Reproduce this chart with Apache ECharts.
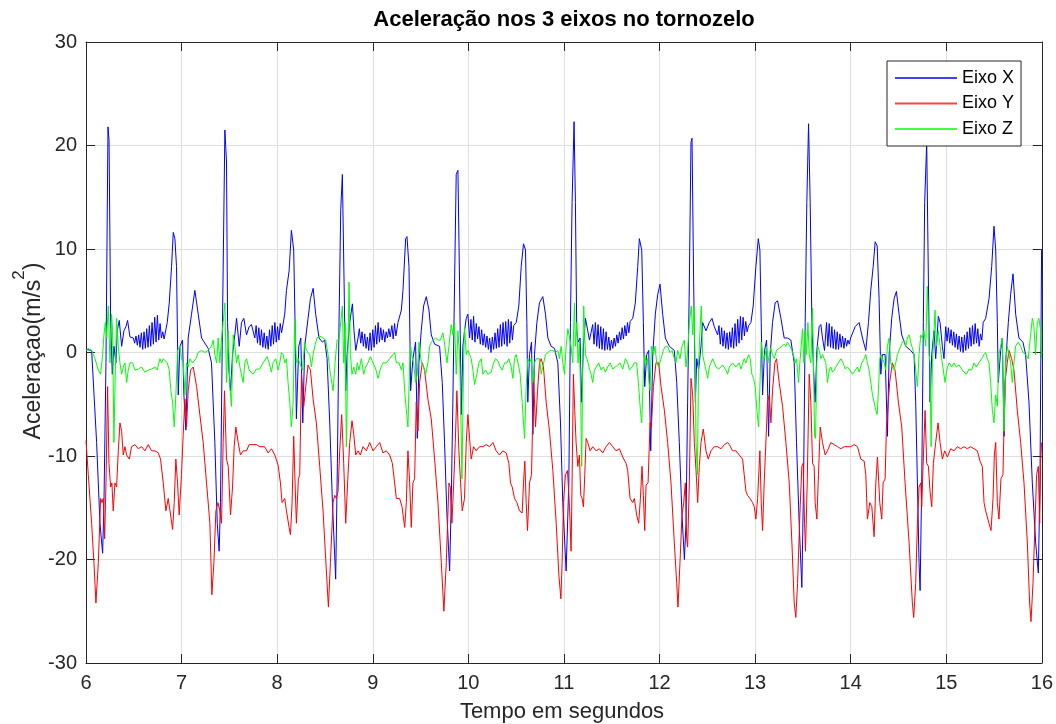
<!DOCTYPE html>
<html><head><meta charset="utf-8">
<script src="https://cdn.jsdelivr.net/npm/echarts@6/dist/echarts.min.js"></script>
<style>html,body{margin:0;padding:0;background:#fff}#c{width:1056px;height:724px}</style>
</head><body><div id="c"></div>
<script>
const titleText = 'Aceleração nos 3 eixos no tornozelo';
const xLabelText = 'Tempo em segundos';
const yLabelRich = '{a|Aceleraçao(m/s}{s|2}{a|)}';
const seriesNames = ['Eixo X', 'Eixo Y', 'Eixo Z'];
const seriesColors = ['#0000ff', '#ff0000', '#00ff00'];
const xRange = [6, 16, 1];
const yRange = [-30, 30, 10];

const eixoX = [[6.000,0.3],[6.059,0.2],[6.111,-8.7],[6.146,-16.5],[6.174,-19.4],[6.188,-14.5],[6.209,-1.0],[6.230,21.8],[6.241,20.5],[6.258,2.9],[6.275,-2.1],[6.292,0.6],[6.313,-1.0],[6.327,2.1],[6.348,3.1],[6.373,0.6],[6.397,2.1],[6.418,2.5],[6.435,3.1],[6.460,1.5],[6.495,1.4],
[6.509,0.9],[6.523,1.6],[6.537,0.7],[6.551,1.7],[6.565,0.5],[6.579,1.9],[6.593,0.3],[6.607,2.0],[6.621,0.4],[6.635,2.3],[6.649,0.5],[6.663,2.6],[6.677,0.6],[6.691,2.9],[6.705,0.8],[6.719,3.4],[6.733,1.0],[6.747,3.6],[6.761,1.2],[6.775,2.8],[6.789,1.4],[6.803,2.0],[6.817,1.3],
[6.830,1.4],[6.850,2.9],[6.871,4.8],[6.895,8.3],[6.913,11.6],[6.930,11.0],[6.947,8.3],[6.965,-4.1],[6.982,0.6],[7.010,1.2],[7.024,-4.1],[7.045,-7.5],[7.069,1.4],[7.104,3.7],[7.139,6.0],[7.174,3.7],[7.209,1.4],[7.278,0.4],[7.313,-1.0],[7.348,-8.7],[7.373,-16.5],[7.393,-19.2],[7.407,-14.5],[7.428,2.9],[7.453,21.5],[7.470,18.4],[7.481,2.9],[7.495,-1.7],[7.512,-3.7],[7.533,-0.2],[7.557,1.7],[7.575,3.3],[7.603,0.6],[7.627,2.9],[7.651,3.3],[7.679,1.7],[7.707,2.5],[7.731,2.7],[7.766,1.4],
[7.780,2.6],[7.794,0.9],[7.808,2.4],[7.822,0.7],[7.836,2.2],[7.850,0.5],[7.864,1.9],[7.878,0.4],[7.892,1.6],[7.906,0.3],[7.920,2.2],[7.934,0.6],[7.948,2.6],[7.962,0.8],[7.976,2.9],[7.990,1.0],[8.004,2.5],[8.018,1.2],[8.032,2.8],[8.046,1.9],
[8.079,3.7],[8.097,6.0],[8.125,7.9],[8.149,11.8],[8.173,9.9],[8.187,2.9],[8.201,-6.4],[8.226,0.6],[8.247,1.4],[8.268,-6.8],[8.288,0.6],[8.323,3.3],[8.348,5.2],[8.376,6.2],[8.403,3.7],[8.438,1.4],[8.473,1.0],[8.497,1.2],[8.522,-0.6],[8.550,-6.8],[8.578,-14.5],[8.612,-21.9],[8.630,-10.7],[8.647,2.9],[8.665,13.8],[8.682,17.2],[8.700,6.7],[8.717,-3.7],[8.731,-0.2],[8.759,2.9],[8.787,4.7],[8.804,2.1],[8.822,0.2],[8.846,1.4],
[8.860,2.3],[8.874,0.9],[8.888,2.0],[8.902,0.6],[8.916,1.8],[8.930,0.4],[8.944,1.5],[8.958,0.2],[8.972,1.9],[8.986,0.2],[9.000,2.2],[9.014,0.5],[9.028,2.6],[9.042,0.8],[9.056,2.9],[9.070,1.0],[9.084,2.4],[9.098,1.2],[9.112,2.2],[9.126,1.0],[9.140,2.0],[9.154,1.4],[9.168,2.3],[9.182,1.5],[9.200,2.6],[9.214,1.3],[9.228,2.8],[9.242,1.6],
[9.264,2.9],[9.299,4.1],[9.316,6.0],[9.344,11.0],[9.358,11.2],[9.379,8.3],[9.396,-3.7],[9.420,-0.6],[9.448,1.0],[9.466,-8.3],[9.483,-1.0],[9.507,2.1],[9.532,4.5],[9.560,5.4],[9.588,4.1],[9.612,1.7],[9.647,0.8],[9.699,0.6],[9.727,-2.9],[9.751,-8.7],[9.776,-15.7],[9.804,-21.1],[9.821,-14.5],[9.838,-4.8],[9.856,6.8],[9.873,17.2],[9.891,17.6],[9.908,6.8],[9.926,-6.0],[9.943,0.6],[9.960,2.1],[9.978,3.3],[9.995,3.7],[10.013,1.4],
[10.027,3.2],[10.041,1.2],[10.055,3.5],[10.069,1.0],[10.083,2.8],[10.097,1.3],[10.111,2.5],[10.125,0.8],[10.139,2.2],[10.153,0.7],[10.167,1.8],[10.181,0.5],[10.195,1.6],[10.209,0.3],[10.223,1.4],[10.237,0.0],[10.251,1.5],[10.265,0.3],[10.279,1.9],[10.293,0.4],[10.307,2.3],[10.321,0.5],[10.335,2.7],[10.349,0.6],[10.363,2.9],[10.377,0.8],[10.391,3.0],[10.405,0.6],[10.419,3.2],[10.433,0.9],[10.447,3.0],[10.461,1.2],[10.475,2.6],
[10.501,2.9],[10.528,4.5],[10.553,8.3],[10.577,10.5],[10.598,9.9],[10.612,2.9],[10.622,-4.8],[10.640,-0.2],[10.661,1.0],[10.675,-7.9],[10.692,-0.2],[10.717,2.9],[10.744,4.8],[10.779,5.4],[10.807,3.7],[10.832,1.4],[10.866,0.6],[10.901,0.4],[10.936,-1.0],[10.964,-6.8],[10.988,-14.5],[11.023,-21.1],[11.051,-12.6],[11.068,2.9],[11.085,14.5],[11.106,22.3],[11.120,14.5],[11.134,2.1],[11.148,1.0],[11.169,1.4],[11.183,-4.8],[11.204,0.6],[11.225,3.3],[11.249,2.1],[11.267,1.2],[11.301,2.7],
[11.315,0.8],[11.329,2.9],[11.343,0.6],[11.357,2.7],[11.371,0.4],[11.385,2.5],[11.399,0.3],[11.413,2.3],[11.427,0.2],[11.441,2.0],[11.455,0.3],[11.469,1.5],[11.483,0.2],[11.497,1.2],[11.511,0.4],[11.525,1.4],[11.539,0.6],[11.553,1.7],[11.567,0.9],[11.581,2.0],[11.595,1.2],[11.609,2.4],[11.623,1.3],[11.637,2.6],[11.651,1.6],[11.665,2.9],[11.679,1.9],[11.693,3.0],
[11.720,3.3],[11.747,4.8],[11.772,8.3],[11.789,11.0],[11.814,9.9],[11.831,2.9],[11.845,-3.3],[11.866,-0.2],[11.887,0.2],[11.908,-9.5],[11.929,-0.2],[11.956,3.7],[11.981,5.6],[12.005,6.6],[12.033,3.7],[12.061,1.4],[12.103,0.6],[12.155,0.2],[12.180,-2.9],[12.207,-8.7],[12.235,-15.7],[12.260,-20.0],[12.277,-16.5],[12.294,-4.8],[12.312,6.8],[12.329,20.3],[12.340,20.7],[12.357,6.8],[12.375,-4.8],[12.389,-0.6],[12.409,-1.7],[12.434,0.6],[12.451,2.9],[12.486,2.1],[12.521,2.9],[12.549,3.3],[12.573,2.5],[12.608,1.7],
[12.622,2.6],[12.636,0.8],[12.650,2.4],[12.664,0.6],[12.678,2.1],[12.692,0.4],[12.706,1.9],[12.720,0.3],[12.734,2.0],[12.748,0.5],[12.762,2.4],[12.776,0.4],[12.790,2.8],[12.804,0.6],[12.818,3.2],[12.832,0.9],[12.846,3.5],[12.860,1.2],[12.874,3.4],[12.888,1.6],[12.902,3.0],[12.916,2.0],[12.932,2.6],
[12.956,2.9],[12.980,4.5],[13.008,8.3],[13.033,11.0],[13.050,9.9],[13.064,2.9],[13.078,-4.1],[13.099,0.2],[13.120,1.2],[13.141,-8.1],[13.158,-0.2],[13.182,2.9],[13.210,4.8],[13.235,5.0],[13.270,3.3],[13.304,1.4],[13.339,1.4],[13.374,1.2],[13.409,-1.0],[13.433,-8.7],[13.461,-16.5],[13.489,-22.7],[13.507,-12.6],[13.524,2.9],[13.541,14.5],[13.559,22.1],[13.576,14.5],[13.594,2.9],[13.611,-1.7],[13.628,-4.8],[13.646,0.2],[13.670,2.5],[13.688,2.7],[13.705,1.4],[13.726,0.2],[13.747,2.9],
[13.761,0.6],[13.775,2.8],[13.789,0.5],[13.803,2.5],[13.817,0.4],[13.831,2.2],[13.845,0.3],[13.859,2.0],[13.873,0.3],[13.887,1.8],[13.901,0.5],[13.915,1.6],[13.929,0.4],[13.943,1.4],[13.957,0.6],[13.971,1.2],[13.985,0.8],[13.999,1.4],
[14.019,1.4],[14.047,2.5],[14.088,2.9],[14.123,1.4],[14.158,0.2],[14.186,2.9],[14.210,6.0],[14.235,8.3],[14.256,10.7],[14.277,10.3],[14.297,5.2],[14.315,-2.1],[14.332,-0.2],[14.360,-0.2],[14.384,-8.1],[14.402,-0.2],[14.429,3.3],[14.454,5.2],[14.478,5.9],[14.506,3.7],[14.534,1.7],[14.576,0.6],[14.628,0.2],[14.663,-0.2],[14.680,-4.8],[14.698,-12.6],[14.715,-20.3],[14.726,-23.0],[14.743,-12.6],[14.760,2.9],[14.774,14.5],[14.795,20.3],[14.813,6.8],[14.830,-4.8],[14.848,-0.2],[14.872,2.1],[14.889,-0.6],[14.917,3.5],[14.935,2.9],[14.959,0.6],[14.976,-0.6],[14.994,2.5],
[15.008,1.1],[15.022,2.4],[15.036,0.9],[15.050,2.2],[15.064,0.7],[15.078,2.0],[15.092,0.5],[15.106,1.8],[15.120,0.3],[15.134,1.6],[15.148,0.1],[15.162,1.5],[15.176,0.0],[15.190,1.7],[15.204,0.2],[15.218,2.0],[15.232,0.4],[15.246,2.4],[15.260,0.6],[15.274,2.6],[15.288,0.8],[15.302,2.8],[15.316,0.9],[15.330,2.3],[15.344,0.6],[15.358,1.8],[15.372,1.2],[15.386,2.9],
[15.412,3.3],[15.447,5.2],[15.475,8.3],[15.499,12.2],[15.517,9.9],[15.534,2.9],[15.544,-2.9],[15.569,0.2],[15.586,1.4],[15.604,-8.1],[15.621,-1.0],[15.649,2.9],[15.673,5.6],[15.698,7.6],[15.726,3.7],[15.760,1.4],[15.802,1.0],[15.830,-0.2],[15.865,-4.8],[15.900,-12.6],[15.935,-18.4],[15.963,-21.3],[15.980,-12.6],[15.997,9.9]];

const eixoY = [[6.000,-8.5],[6.024,-11.8],[6.059,-16.5],[6.083,-20.3],[6.104,-24.2],[6.129,-20.3],[6.153,-14.1],[6.167,-14.5],[6.181,-14.1],[6.195,-18.0],[6.209,-12.6],[6.226,-3.3],[6.240,-10.7],[6.258,-13.0],[6.271,-12.6],[6.285,-15.3],[6.303,-12.6],[6.320,-13.0],[6.338,-9.5],[6.355,-6.8],[6.373,-7.6],[6.390,-9.9],[6.407,-9.1],[6.425,-9.9],[6.453,-10.3],[6.477,-9.1],[6.512,-8.9],[6.547,-9.3],[6.582,-9.1],[6.616,-9.5],[6.651,-8.9],[6.686,-9.5],[6.721,-9.5],[6.756,-9.7],[6.780,-10.3],[6.808,-12.6],[6.836,-15.3],[6.860,-14.1],[6.885,-15.7],[6.906,-17.1],[6.923,-14.5],[6.940,-10.3],[6.958,-12.6],[6.975,-15.7],[6.999,-11.8],[7.017,-7.9],[7.035,-4.5],[7.052,-7.2],[7.069,-3.7],[7.094,-1.7],[7.122,-1.4],[7.157,-3.3],[7.191,-6.0],[7.226,-8.7],[7.261,-12.6],[7.296,-16.5],[7.317,-23.4],[7.338,-20.3],[7.359,-15.3],[7.380,-14.5],[7.400,-15.3],[7.418,-16.5],[7.435,-8.7],[7.449,-3.7],[7.470,-10.3],[7.488,-11.0],[7.512,-15.7],[7.533,-13.0],[7.550,-9.1],[7.568,-7.2],[7.592,-8.7],[7.616,-9.9],[7.644,-9.5],[7.679,-9.5],[7.707,-8.9],[7.748,-8.9],[7.783,-8.9],[7.818,-9.1],[7.870,-9.1],[7.905,-9.7],[7.940,-9.3],[7.975,-9.9],[8.010,-10.9],[8.034,-12.6],[8.051,-14.5],[8.079,-14.1],[8.097,-15.3],[8.125,-16.9],[8.139,-17.6],[8.156,-14.5],[8.173,-8.1],[8.187,-12.6],[8.201,-16.5],[8.222,-12.2],[8.236,-11.8],[8.254,-2.1],[8.278,-5.2],[8.299,-3.3],[8.323,-1.2],[8.348,-1.7],[8.376,-4.5],[8.410,-6.8],[8.445,-11.0],[8.480,-15.3],[8.508,-20.0],[8.536,-24.6],[8.557,-20.3],[8.585,-14.5],[8.602,-13.8],[8.619,-14.1],[8.637,-13.4],[8.654,-9.5],[8.675,-6.0],[8.696,-10.7],[8.717,-16.5],[8.741,-11.8],[8.759,-8.7],[8.783,-6.6],[8.801,-7.9],[8.822,-9.9],[8.846,-9.5],[8.870,-9.9],[8.898,-9.1],[8.933,-9.5],[8.968,-8.7],[9.003,-9.5],[9.038,-9.1],[9.072,-8.7],[9.107,-9.7],[9.142,-9.5],[9.177,-9.9],[9.205,-10.7],[9.229,-12.6],[9.247,-14.1],[9.281,-14.1],[9.306,-14.9],[9.334,-16.9],[9.351,-14.5],[9.368,-9.5],[9.386,-12.6],[9.403,-16.9],[9.420,-12.6],[9.438,-12.2],[9.455,-4.8],[9.473,-7.6],[9.490,-2.9],[9.518,-1.0],[9.542,-1.7],[9.577,-4.5],[9.612,-6.4],[9.647,-10.3],[9.682,-14.5],[9.717,-20.3],[9.744,-25.0],[9.769,-20.3],[9.797,-12.6],[9.811,-13.0],[9.828,-16.5],[9.845,-13.0],[9.863,-8.7],[9.880,-3.7],[9.901,-9.5],[9.919,-12.6],[9.936,-15.3],[9.960,-14.1],[9.978,-8.7],[9.995,-6.0],[10.013,-8.3],[10.030,-10.3],[10.055,-9.1],[10.082,-9.5],[10.117,-9.1],[10.152,-9.1],[10.187,-8.9],[10.222,-9.1],[10.257,-8.7],[10.291,-9.5],[10.326,-9.9],[10.361,-9.5],[10.396,-9.7],[10.424,-10.7],[10.441,-12.6],[10.459,-13.0],[10.483,-14.1],[10.508,-14.5],[10.535,-15.3],[10.563,-15.5],[10.577,-12.6],[10.591,-10.5],[10.605,-14.5],[10.619,-17.2],[10.640,-12.6],[10.661,-11.8],[10.682,-2.5],[10.703,-7.2],[10.724,-3.7],[10.744,-1.0],[10.762,-0.6],[10.786,-1.4],[10.814,-4.8],[10.849,-7.6],[10.884,-11.4],[10.919,-16.5],[10.947,-21.5],[10.968,-23.8],[10.981,-20.3],[10.995,-14.5],[11.016,-11.8],[11.037,-11.4],[11.058,-14.9],[11.075,-19.2],[11.085,-12.6],[11.099,-2.1],[11.113,-5.6],[11.127,-8.7],[11.145,-11.0],[11.162,-9.9],[11.176,-13.8],[11.190,-14.1],[11.204,-14.9],[11.218,-11.8],[11.232,-8.3],[11.249,-8.7],[11.274,-9.5],[11.301,-9.1],[11.336,-9.5],[11.371,-9.3],[11.406,-9.7],[11.441,-9.1],[11.476,-8.7],[11.510,-9.1],[11.545,-9.5],[11.580,-9.3],[11.615,-10.1],[11.650,-10.7],[11.667,-11.4],[11.692,-14.1],[11.720,-14.5],[11.737,-14.1],[11.761,-15.7],[11.782,-16.5],[11.800,-14.1],[11.817,-11.0],[11.831,-13.8],[11.845,-17.2],[11.859,-12.8],[11.880,-12.6],[11.901,-6.8],[11.915,-7.2],[11.936,-3.3],[11.963,-1.0],[11.991,-1.0],[12.016,-3.3],[12.051,-5.6],[12.085,-8.7],[12.120,-12.6],[12.155,-18.4],[12.180,-22.3],[12.193,-24.6],[12.214,-20.3],[12.235,-15.7],[12.253,-14.5],[12.270,-12.6],[12.284,-18.0],[12.294,-18.8],[12.312,-12.6],[12.329,-2.5],[12.347,-4.1],[12.364,-8.7],[12.382,-11.4],[12.399,-14.5],[12.416,-11.0],[12.434,-8.7],[12.458,-7.4],[12.486,-9.5],[12.510,-10.3],[12.538,-9.5],[12.573,-9.1],[12.608,-9.1],[12.643,-9.3],[12.678,-8.9],[12.713,-8.7],[12.730,-8.9],[12.764,-9.5],[12.799,-9.5],[12.834,-9.9],[12.869,-10.3],[12.886,-11.8],[12.904,-13.4],[12.921,-13.8],[12.946,-14.1],[12.973,-14.5],[12.991,-14.9],[13.008,-16.1],[13.026,-14.1],[13.050,-9.5],[13.064,-14.5],[13.078,-17.2],[13.095,-12.6],[13.113,-12.6],[13.130,-4.8],[13.148,-4.1],[13.165,-6.8],[13.182,-3.7],[13.207,-1.0],[13.224,-0.6],[13.252,-2.9],[13.287,-5.2],[13.322,-8.7],[13.357,-12.6],[13.385,-18.4],[13.409,-24.2],[13.426,-25.6],[13.444,-22.3],[13.468,-15.7],[13.489,-11.0],[13.503,-10.7],[13.517,-16.5],[13.527,-19.2],[13.545,-12.6],[13.566,-2.1],[13.583,-4.8],[13.601,-10.7],[13.618,-11.0],[13.628,-14.5],[13.646,-16.1],[13.663,-11.8],[13.681,-7.2],[13.705,-8.7],[13.733,-9.9],[13.757,-9.5],[13.792,-8.7],[13.827,-8.9],[13.862,-9.1],[13.897,-9.3],[13.932,-9.1],[13.966,-9.1],[14.001,-9.1],[14.036,-8.9],[14.071,-9.1],[14.106,-10.3],[14.141,-10.5],[14.158,-11.8],[14.175,-16.1],[14.200,-14.5],[14.221,-14.9],[14.245,-17.8],[14.263,-12.6],[14.280,-10.1],[14.304,-14.5],[14.325,-16.1],[14.339,-12.6],[14.360,-12.2],[14.374,-7.2],[14.391,-7.2],[14.408,-2.9],[14.436,-1.0],[14.464,-1.7],[14.499,-4.8],[14.534,-7.2],[14.569,-12.6],[14.611,-18.4],[14.645,-24.2],[14.659,-25.6],[14.680,-22.3],[14.698,-16.5],[14.715,-13.0],[14.733,-12.6],[14.743,-14.9],[14.757,-11.0],[14.778,-5.6],[14.795,-10.7],[14.813,-11.0],[14.830,-13.4],[14.848,-14.9],[14.865,-10.7],[14.889,-8.7],[14.914,-6.8],[14.935,-8.7],[14.959,-10.3],[14.983,-9.5],[15.011,-10.1],[15.046,-9.3],[15.081,-9.5],[15.116,-9.1],[15.151,-9.3],[15.185,-9.1],[15.220,-9.3],[15.255,-9.1],[15.290,-9.3],[15.325,-9.5],[15.353,-10.5],[15.377,-11.0],[15.395,-14.5],[15.412,-15.3],[15.429,-15.3],[15.447,-16.5],[15.468,-17.2],[15.489,-14.1],[15.503,-9.9],[15.517,-8.7],[15.534,-14.5],[15.551,-16.1],[15.572,-12.2],[15.593,-11.8],[15.614,-2.9],[15.638,-1.0],[15.656,0.2],[15.684,-0.6],[15.708,-1.7],[15.743,-5.6],[15.778,-8.7],[15.813,-12.6],[15.848,-18.4],[15.872,-24.2],[15.886,-26.0],[15.907,-22.3],[15.928,-16.5],[15.945,-11.8],[15.963,-11.0],[15.977,-16.5],[15.987,-10.7],[15.997,-8.7]];

const eixoZ = [[6.000,0.2],[6.024,0.4],[6.059,0.2],[6.094,-0.6],[6.129,-1.7],[6.153,-2.1],[6.174,-0.2],[6.188,1.7],[6.202,2.9],[6.216,1.4],[6.233,4.5],[6.251,-1.0],[6.268,3.7],[6.278,2.1],[6.292,-8.7],[6.306,-2.1],[6.320,3.3],[6.338,0.6],[6.355,-1.0],[6.373,-2.1],[6.390,-1.4],[6.407,-1.0],[6.425,-2.9],[6.442,-1.7],[6.460,-1.0],[6.488,-1.0],[6.512,-1.7],[6.547,-1.6],[6.582,-1.4],[6.616,-1.9],[6.651,-1.7],[6.686,-1.6],[6.721,-1.4],[6.745,-1.7],[6.773,-0.6],[6.791,-1.0],[6.808,-0.6],[6.826,-0.6],[6.850,-1.0],[6.871,-1.7],[6.888,-3.7],[6.906,-4.8],[6.923,-7.2],[6.940,-4.1],[6.958,0.2],[6.982,0.6],[6.999,-0.6],[7.017,-1.0],[7.035,-4.1],[7.052,-1.0],[7.069,-1.4],[7.087,-0.6],[7.115,-1.0],[7.150,-0.6],[7.174,0.0],[7.209,0.2],[7.244,0.0],[7.278,0.2],[7.313,0.6],[7.331,1.2],[7.348,-0.2],[7.366,-1.0],[7.383,1.4],[7.400,-1.0],[7.418,1.4],[7.435,2.9],[7.453,4.8],[7.470,-2.9],[7.488,2.1],[7.505,-3.3],[7.522,-5.2],[7.540,1.7],[7.557,0.6],[7.575,-1.0],[7.592,-0.2],[7.610,-1.4],[7.627,-1.4],[7.644,-2.9],[7.662,-1.0],[7.679,-0.6],[7.707,-1.7],[7.748,-2.1],[7.783,-1.6],[7.818,-1.6],[7.853,-1.0],[7.881,-0.6],[7.895,-0.4],[7.916,-1.0],[7.940,-1.9],[7.957,-1.0],[7.985,-0.6],[8.010,-1.7],[8.027,-1.0],[8.045,0.0],[8.062,-0.2],[8.079,-1.0],[8.097,-0.6],[8.114,-2.9],[8.132,-4.8],[8.149,-7.2],[8.167,-4.8],[8.184,3.3],[8.201,-1.0],[8.219,-0.6],[8.236,-1.0],[8.264,-1.7],[8.288,1.0],[8.306,0.2],[8.341,-0.2],[8.358,-1.4],[8.376,-0.2],[8.393,0.6],[8.417,1.4],[8.445,1.6],[8.480,1.4],[8.508,1.2],[8.532,-0.2],[8.557,-2.1],[8.585,-3.7],[8.606,-1.0],[8.626,1.2],[8.647,1.2],[8.665,1.2],[8.682,4.5],[8.696,-1.0],[8.710,2.9],[8.724,-9.1],[8.738,-1.0],[8.752,6.8],[8.766,-0.2],[8.783,-2.1],[8.801,-1.4],[8.822,-2.1],[8.839,-1.0],[8.856,-1.7],[8.881,-0.6],[8.905,-2.1],[8.926,-1.4],[8.950,-1.0],[8.975,-0.4],[9.003,-1.0],[9.031,-1.6],[9.055,-2.5],[9.079,-1.6],[9.107,-1.0],[9.142,-1.0],[9.177,-0.6],[9.212,-0.2],[9.229,0.0],[9.247,-1.0],[9.275,-1.0],[9.299,-1.7],[9.316,-1.0],[9.337,-4.1],[9.351,-5.5],[9.368,-7.2],[9.386,-1.0],[9.396,0.6],[9.413,-0.6],[9.427,-1.0],[9.448,-2.9],[9.466,-2.1],[9.483,1.0],[9.497,-0.2],[9.511,-1.0],[9.532,-1.4],[9.553,-2.1],[9.577,-1.0],[9.595,0.6],[9.612,1.0],[9.629,1.0],[9.657,1.4],[9.682,1.2],[9.706,1.2],[9.734,1.9],[9.755,0.6],[9.776,-1.0],[9.797,0.6],[9.821,2.7],[9.839,1.7],[9.856,2.9],[9.873,-2.1],[9.891,2.1],[9.908,-0.2],[9.919,-4.8],[9.933,-12.2],[9.950,-1.0],[9.960,2.5],[9.978,-0.2],[9.995,0.2],[10.013,-0.2],[10.030,-0.6],[10.048,-1.7],[10.065,-3.1],[10.089,-2.1],[10.110,-1.0],[10.135,-0.6],[10.152,-2.1],[10.180,-1.7],[10.204,-2.1],[10.239,-1.9],[10.264,-1.0],[10.284,-0.6],[10.309,-0.8],[10.333,-1.4],[10.354,-1.7],[10.379,-1.0],[10.403,-1.0],[10.424,-0.6],[10.448,-1.4],[10.466,-2.5],[10.483,-0.6],[10.501,-0.2],[10.528,-1.4],[10.542,-2.1],[10.563,-4.8],[10.588,-8.3],[10.605,-3.3],[10.622,-0.6],[10.640,-1.0],[10.657,-0.6],[10.675,-2.9],[10.692,-1.0],[10.710,-0.6],[10.744,-0.6],[10.762,-2.1],[10.779,-1.4],[10.807,-0.2],[10.832,0.0],[10.856,0.2],[10.884,0.2],[10.912,0.0],[10.936,0.2],[10.953,-0.6],[10.971,0.6],[10.988,-1.0],[11.006,-2.1],[11.023,0.6],[11.041,2.3],[11.075,0.6],[11.092,-1.0],[11.110,4.8],[11.120,0.6],[11.134,2.9],[11.148,-1.0],[11.162,1.0],[11.176,-4.8],[11.186,-11.0],[11.197,-1.0],[11.207,4.5],[11.225,-0.2],[11.239,-0.6],[11.253,-1.0],[11.267,-1.6],[11.284,-2.1],[11.301,-2.9],[11.319,-1.7],[11.336,-1.6],[11.364,-1.0],[11.389,-1.7],[11.413,-1.4],[11.434,-1.9],[11.458,-1.4],[11.483,-1.0],[11.510,-1.6],[11.538,-1.4],[11.563,-1.2],[11.587,-1.0],[11.615,-1.6],[11.643,-0.6],[11.667,-1.0],[11.685,-1.7],[11.713,-1.4],[11.737,-1.0],[11.761,-1.0],[11.782,-3.3],[11.800,-5.6],[11.814,-6.8],[11.831,-2.1],[11.845,-0.2],[11.859,-1.0],[11.873,-0.6],[11.887,-2.5],[11.901,-3.7],[11.915,0.6],[11.936,-0.2],[11.953,0.6],[11.970,-1.0],[11.991,-1.4],[12.016,-0.6],[12.040,0.2],[12.061,0.6],[12.085,0.6],[12.110,0.0],[12.131,0.2],[12.155,-0.6],[12.172,-1.0],[12.190,0.2],[12.214,-0.6],[12.235,0.6],[12.260,1.2],[12.277,-1.4],[12.294,0.2],[12.312,2.9],[12.333,4.5],[12.347,1.7],[12.364,4.5],[12.382,-8.7],[12.396,-11.8],[12.409,-1.0],[12.423,2.1],[12.437,4.5],[12.451,-0.2],[12.469,-1.0],[12.486,-1.7],[12.504,-2.5],[12.521,-1.4],[12.538,-1.0],[12.556,-0.6],[12.573,-1.0],[12.591,-1.4],[12.619,-1.6],[12.660,-1.2],[12.695,-1.7],[12.712,-2.1],[12.730,-1.4],[12.764,-1.0],[12.799,-1.4],[12.834,-1.0],[12.851,-1.6],[12.886,-0.6],[12.904,-1.0],[12.932,-0.2],[12.949,-0.6],[12.966,-2.1],[12.984,-2.5],[13.001,-3.3],[13.019,-5.6],[13.036,-7.2],[13.050,-3.3],[13.064,1.0],[13.078,-0.2],[13.092,-0.6],[13.106,-0.2],[13.120,0.6],[13.134,-1.0],[13.148,-0.2],[13.165,0.4],[13.182,-0.2],[13.200,-0.6],[13.224,0.2],[13.252,0.4],[13.280,0.6],[13.304,0.8],[13.322,0.6],[13.339,1.0],[13.364,0.6],[13.385,0.2],[13.399,-0.2],[13.419,-1.0],[13.433,-0.6],[13.454,-2.9],[13.468,-1.0],[13.482,0.6],[13.496,2.3],[13.510,-1.0],[13.524,2.1],[13.538,-0.2],[13.552,2.9],[13.566,-0.2],[13.583,-1.0],[13.601,4.3],[13.611,-1.0],[13.622,-8.1],[13.632,-8.3],[13.646,-1.0],[13.656,0.6],[13.670,0.2],[13.688,-0.6],[13.705,-0.2],[13.723,-0.6],[13.740,-1.0],[13.757,-2.9],[13.775,-1.7],[13.792,-1.4],[13.810,-1.9],[13.827,-1.7],[13.845,-1.4],[13.872,-1.0],[13.897,-0.6],[13.921,-1.0],[13.942,-1.6],[13.966,-1.4],[13.991,-1.7],[14.019,-2.1],[14.047,-1.7],[14.071,-1.4],[14.088,-1.9],[14.116,-1.0],[14.141,-0.6],[14.158,-0.2],[14.175,-1.0],[14.193,-1.7],[14.210,-2.9],[14.228,-4.1],[14.245,-4.8],[14.263,-5.6],[14.277,-6.0],[14.290,-3.7],[14.304,-0.6],[14.318,-0.2],[14.332,-0.6],[14.350,-1.0],[14.367,-1.7],[14.384,0.6],[14.402,1.4],[14.419,-1.0],[14.436,-1.4],[14.454,-1.7],[14.471,-1.0],[14.489,-0.2],[14.506,0.2],[14.523,0.6],[14.541,1.0],[14.558,1.2],[14.576,0.6],[14.593,1.4],[14.611,1.7],[14.628,1.0],[14.645,1.0],[14.663,-0.2],[14.680,-1.7],[14.698,-3.3],[14.715,-0.2],[14.733,1.7],[14.750,1.4],[14.767,2.1],[14.785,0.6],[14.802,6.4],[14.820,-0.2],[14.830,-1.0],[14.841,-9.1],[14.855,-1.0],[14.872,2.1],[14.882,4.1],[14.896,0.6],[14.917,2.1],[14.935,0.6],[14.952,-0.6],[14.969,-1.7],[14.987,-2.9],[15.004,-1.7],[15.029,-1.0],[15.057,-1.4],[15.081,-1.0],[15.105,-1.4],[15.133,-1.2],[15.161,-1.6],[15.185,-1.9],[15.210,-2.1],[15.238,-1.6],[15.266,-1.7],[15.290,-1.0],[15.314,-1.4],[15.342,-1.0],[15.370,-0.6],[15.395,-0.2],[15.412,0.0],[15.429,-0.6],[15.447,-1.0],[15.464,-2.9],[15.482,-5.6],[15.499,-6.8],[15.517,-4.1],[15.534,-5.2],[15.551,-0.2],[15.569,0.6],[15.586,1.4],[15.604,-7.6],[15.621,-1.0],[15.638,0.6],[15.656,-0.2],[15.673,-1.0],[15.691,-2.9],[15.708,-1.0],[15.725,0.6],[15.753,1.0],[15.778,0.6],[15.802,0.0],[15.830,-0.2],[15.857,-0.6],[15.882,1.7],[15.900,3.3],[15.917,2.5],[15.934,-0.2],[15.952,2.9],[15.969,3.3],[15.987,2.1],[15.997,-0.6]];

const FONT = '"Liberation Sans", Arial, Helvetica, sans-serif';
const AX = '#262626';
const chart = echarts.init(document.getElementById('c'), null, {renderer: 'canvas'});

function axisBase(range, pos, labels) {
  return {
    type: 'value', min: range[0], max: range[1], interval: range[2], position: pos,
    axisLine: {show: true, onZero: false, lineStyle: {color: AX, width: 1}},
    axisTick: {show: true, inside: true, length: 9, lineStyle: {color: AX, width: 1}},
    axisLabel: {show: labels, color: AX, fontSize: 20, fontFamily: FONT, margin: 10},
    splitLine: {show: labels, lineStyle: {color: '#dfdfdf', width: 1}}
  };
}

const dataSets = [eixoX, eixoY, eixoZ];
chart.setOption({
  animation: false,
  backgroundColor: '#ffffff',
  grid: {left: 86, right: 13, top: 42, bottom: 61, containLabel: false},
  xAxis: [axisBase(xRange, 'bottom', true), axisBase(xRange, 'top', false)],
  yAxis: [Object.assign(axisBase(yRange, 'left', true), {axisLabel: {color: AX, fontSize: 20, fontFamily: FONT, margin: 9}}),
          axisBase(yRange, 'right', false)],
  legend: {
    data: seriesNames,
    orient: 'vertical', left: 887, top: 61,
    itemWidth: 62, itemHeight: 14, itemGap: 7.5, padding: [8, 7, 8, 7],
    itemStyle: {opacity: 0},
    lineStyle: {width: 2, opacity: 0.75},
    backgroundColor: '#ffffff', borderColor: AX, borderWidth: 1, borderRadius: 0,
    textStyle: {fontSize: 18, color: '#000', fontFamily: FONT, lineHeight: 18},
    z: 10
  },
  graphic: [
    {type: 'text', x: 564, y: 20, z: 20, style: {text: titleText, fontSize: 22, fontWeight: 'bold', fontFamily: FONT, fill: '#000', textAlign: 'center', align: 'center', textVerticalAlign: 'middle', verticalAlign: 'middle'}},
    {type: 'text', x: 562, y: 712, z: 20, style: {text: xLabelText, fontSize: 22, fontFamily: FONT, fill: '#262626', textAlign: 'center', align: 'center', textVerticalAlign: 'middle', verticalAlign: 'middle'}},
    {type: 'text', x: 28, y: 351, rotation: Math.PI / 2, z: 20, style: {
      text: yLabelRich, fill: '#262626', fontFamily: FONT, fontSize: 23,
      textAlign: 'center', align: 'center', textVerticalAlign: 'middle', verticalAlign: 'middle',
      rich: {
        a: {fontSize: 23, lineHeight: 34, verticalAlign: 'bottom', fontFamily: FONT, fill: '#262626'},
        s: {fontSize: 17, lineHeight: 17, verticalAlign: 'top', fontFamily: FONT, fill: '#262626'}
      }
    }}
  ],
  series: seriesNames.map((n, i) => ({
    name: n, type: 'line', xAxisIndex: 0, yAxisIndex: 0,
    data: dataSets[i], symbol: 'none', showSymbol: false, smooth: false,
    color: seriesColors[i],
    lineStyle: {color: seriesColors[i], width: 1}, itemStyle: {color: seriesColors[i]},
    emphasis: {disabled: true}, clip: true, z: 2 + i
  }))
});
</script>
</body></html>
